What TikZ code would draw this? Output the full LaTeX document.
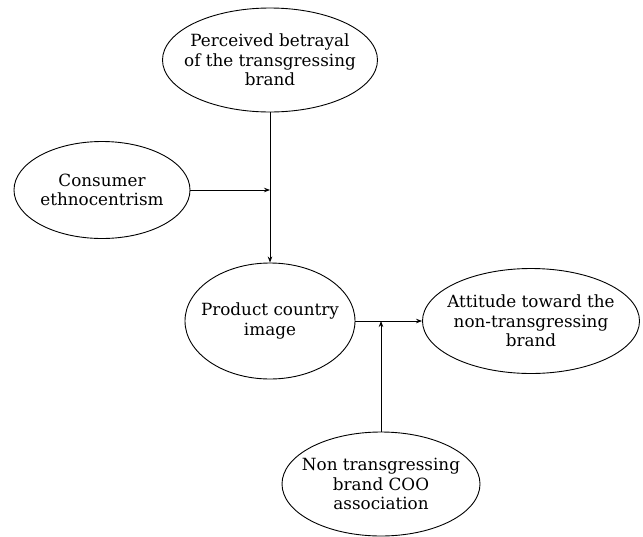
\documentclass[tikz,border=0pt]{standalone}
\usepackage{fontspec}
\setmainfont{DejaVu Serif}
\usetikzlibrary{shapes.geometric,arrows.meta}
\begin{document}
\begin{tikzpicture}[x=1pt,y=-1pt,
  oval/.style={draw, ellipse, line width=0.9pt, inner sep=0pt},
  lbl/.style={align=center, font=\fontsize{16.8}{19.5}\selectfont, inner sep=0pt},
  conn/.style={line width=0.8pt, -{Stealth[length=6pt,width=4.5pt]}},
  plain/.style={line width=0.8pt}]
\useasboundingbox (0,0) rectangle (643,536);
\node[oval, minimum width=215pt, minimum height=104pt] (pbt) at (270,60) {};
\node[lbl] (pbtt) at (pbt.center) {Perceived betrayal\\of the transgressing\\brand};
\node[oval, minimum width=176pt, minimum height=97pt] (ce) at (102,190) {};
\node[lbl] (cet) at (ce.center) {Consumer\\ethnocentrism};
\node[oval, minimum width=170pt, minimum height=116pt] (pci) at (270,321) {};
\node[lbl] (pcit) at (pci.center) {Product country\\image};
\node[oval, minimum width=217pt, minimum height=105pt] (att) at (531,321) {};
\node[lbl] (attt) at (att.center) {Attitude toward the\\non-transgressing\\brand};
\node[oval, minimum width=198pt, minimum height=104pt] (nt) at (381,484) {};
\node[lbl] (ntt) at (nt.center) {Non transgressing\\brand COO\\association};
\coordinate (j1) at (pbt.south |- ce.east);
\coordinate (j2) at (nt.north |- pci.east);
\draw[conn] (pbt.south) -- (pci.north);
\draw[conn] (ce.east) -- (j1);
\draw[conn] (pci.east) -- (att.west);
\draw[conn] (nt.north) -- (j2);
\end{tikzpicture}
\end{document}
